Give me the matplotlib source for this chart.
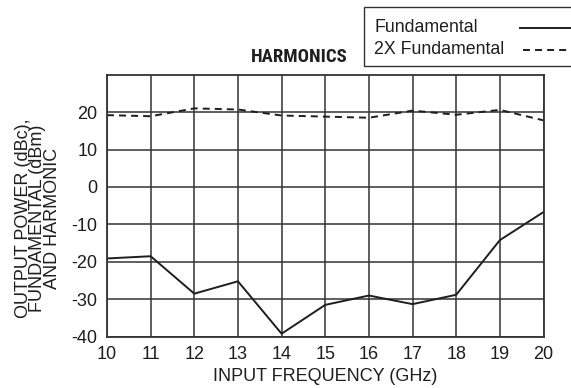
import matplotlib.pyplot as plt
import matplotlib.font_manager as fm
from matplotlib.lines import Line2D
from matplotlib.patches import Rectangle

# Data
freq = [10, 11, 12, 13, 14, 15, 16, 17, 18, 19, 20]
fundamental = [-19.1, -18.5, -28.5, -25.2, -39.2, -31.5, -29.0, -31.3, -28.8, -14.2, -6.7]
harmonic_2x = [19.2, 18.9, 21.0, 20.7, 19.1, 18.8, 18.5, 20.4, 19.3, 20.6, 17.8]
yticks = [-40, -30, -20, -10, 0, 10, 20]
ytick_labels = ['-40', '-30', '-20', '-10', '0', '10', '20']

plt.rcParams['font.family'] = ['Liberation Sans', 'DejaVu Sans']
ink = '#1e1e1e'
dash = (0, (3.6, 2.6))

W, H = 571, 388
fig = plt.figure(figsize=(W / 100, H / 100), dpi=100)
ax = fig.add_axes([107 / W, 1 - 336.7 / H, 436.5 / W, 262 / H])

ax.plot(freq, fundamental, color=ink, lw=1.4, linestyle='-')
ax.plot(freq, harmonic_2x, color=ink, lw=1.4, linestyle=dash)

ax.set_xlim(10, 20)
ax.set_ylim(-40, 30)
ax.set_xticks(freq)
ax.set_yticks(yticks)
ax.set_yticklabels(ytick_labels)
ax.grid(True, color='#333333', lw=1.1)
ax.tick_params(length=0, labelsize=13, colors=ink, pad=7)
for s in ax.spines.values():
    s.set_linewidth(1.3)
    s.set_color('#333333')

ax.set_xlabel('INPUT FREQUENCY (GHz)', fontsize=13, color=ink, labelpad=3)
fig.text(38 / W, 1 - 218 / H, 'OUTPUT POWER (dBc),\nFUNDAMENTAL (dBm)\nAND HARMONIC',
         rotation=90, ha='center', va='center', fontsize=13, linespacing=0.8, color=ink)

# condensed bold title font
names = {f.name for f in fm.fontManager.ttflist}
tfam = None
for cand in ['Liberation Sans Narrow', 'DejaVu Sans Condensed', 'Roboto Condensed']:
    if cand in names:
        tfam = cand
        break
if tfam is None:
    tfam = 'Roboto'
fig.text(299 / W, 1 - 57 / H, 'HARMONICS', ha='center', va='center',
         fontsize=13.5, fontweight='bold', family=tfam, fontstretch='condensed', color=ink)

# legend box at top right, it runs off the right edge
fig.add_artist(Rectangle((364 / W, 1 - 65.5 / H), 220 / W, 58 / H, transform=fig.transFigure,
                         fill=False, edgecolor='#333333', lw=1.0, clip_on=False))
fig.text(374 / W, 1 - 28 / H, 'Fundamental', ha='left', va='center', fontsize=12.8, color=ink)
fig.text(374 / W, 1 - 50 / H, '2X Fundamental', ha='left', va='center', fontsize=12.8, color=ink)
fig.add_artist(Line2D([520 / W, 1], [1 - 28 / H] * 2, transform=fig.transFigure,
                      color=ink, lw=1.4, linestyle='-'))
fig.add_artist(Line2D([522.5 / W, 1], [1 - 50 / H] * 2, transform=fig.transFigure,
                      color=ink, lw=1.4, linestyle=dash))

fig.savefig('out.png', dpi=100)
